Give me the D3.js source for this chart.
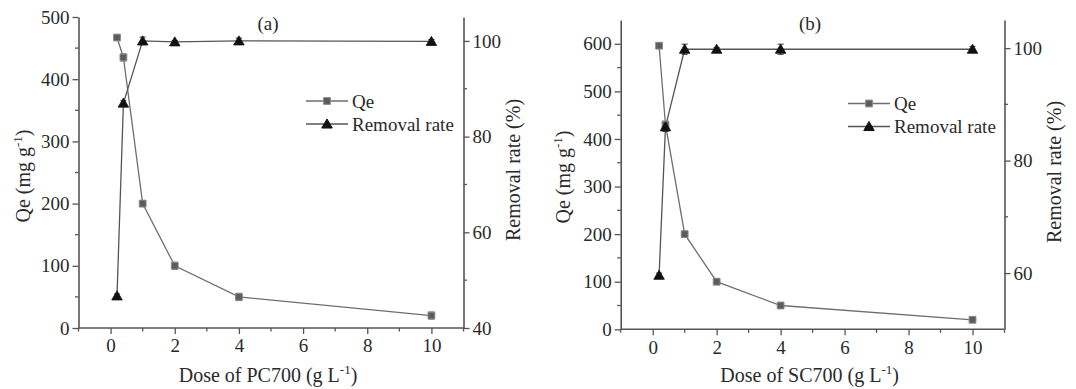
<!DOCTYPE html>
<html>
<head>
<meta charset="utf-8">
<script src="https://cdn.jsdelivr.net/npm/d3@7"></script>
<style>
  html, body { margin: 0; padding: 0; background: #fff; }
  svg { display: block; }
  svg text { font-family: "Liberation Serif", "Times New Roman", serif !important; fill: #2a2a2a; }
</style>
</head>
<body>
<svg id="chart" width="1076" height="389"></svg>
<script>
// Adsorbent dose (g/L) shared by both experiments
const doses = [0.2, 0.4, 1, 2, 4, 10];
const xTicks = [0, 2, 4, 6, 8, 10];
const xMinorTicks = [-1, 1, 3, 5, 7, 9, 11];

// PC700
const qePC = [467, 435, 200, 100, 50, 20];
const qePCErr = [3, 6, 5, 6, 6, 6];
const ratePC = [46.7, 87.0, 100.0, 99.8, 100.0, 99.9];
const ratePCErr = [0.4, 0.5, 0.8, 0.3, 0.6, 0.4];
const qeTicksPC = [0, 100, 200, 300, 400, 500];
const qeMinorPC = [50, 150, 250, 350, 450];
const rateTicksPC = [40, 60, 80, 100];
const rateMinorPC = [50, 70, 90];

// SC700
const qeSC = [596, 430, 200, 100, 50, 20];
const qeSCErr = [3, 8, 6, 6, 6, 5];
const rateSC = [59.6, 86.0, 99.8, 99.8, 99.8, 99.8];
const rateSCErr = [0.4, 0.8, 0.9, 0.3, 0.9, 0.5];
const qeTicksSC = [0, 100, 200, 300, 400, 500, 600];
const qeMinorSC = [50, 150, 250, 350, 450, 550];
const rateTicksSC = [60, 80, 100];
const rateMinorSC = [70, 90];

const legendLabels = ["Qe", "Removal rate"];

const svg = d3.select("#chart");
const AXIS = "#555";
const SERIF = '"Liberation Serif", "Times New Roman", serif';

function drawPanel(p) {
  const g = svg.append("g");
  const x = d3.scaleLinear().domain([-1, 11]).range([p.left, p.right]);
  const yL = d3.scaleLinear().domain(p.qeDomain).range([p.bottom, p.top]);
  const yR = d3.scaleLinear().domain(p.rateDomain).range([p.bottom, p.top]);

  // axes
  const styleAxis = sel => {
    sel.attr("font-family", null).attr("font-size", null);
    sel.select(".domain").attr("stroke", AXIS).attr("stroke-width", 1.6);
    sel.selectAll(".tick line").attr("stroke", AXIS).attr("stroke-width", 1.3);
    sel.selectAll(".tick text").style("font-size", "19px").style("font-family", SERIF)
      .attr("fill", "#2a2a2a");
  };
  const minor = (sel, scale, vals, orient) => {
    sel.selectAll(null).data(vals).join("line")
      .attr("stroke", AXIS).attr("stroke-width", 1.3)
      .each(function (d) {
        const s = d3.select(this);
        if (orient === "bottom") s.attr("x1", scale(d)).attr("x2", scale(d)).attr("y1", p.bottom).attr("y2", p.bottom + 3.5);
        if (orient === "left") s.attr("y1", scale(d)).attr("y2", scale(d)).attr("x1", p.left).attr("x2", p.left - 3.5);
        if (orient === "right") s.attr("y1", scale(d)).attr("y2", scale(d)).attr("x1", p.right).attr("x2", p.right + 3.5);
      });
  };

  const gx = g.append("g").attr("transform", `translate(0,${p.bottom})`)
    .call(d3.axisBottom(x).tickValues(xTicks).tickSize(6).tickPadding(5).tickSizeOuter(0));
  styleAxis(gx);
  gx.select(".domain").attr("d", `M${p.left},0H${p.right}`);
  minor(g, x, xMinorTicks, "bottom");

  const gl = g.append("g").attr("transform", `translate(${p.left},0)`)
    .call(d3.axisLeft(yL).tickValues(p.qeTicks).tickSize(6).tickPadding(3).tickSizeOuter(0));
  styleAxis(gl);
  minor(g, yL, p.qeMinor, "left");

  const gr = g.append("g").attr("transform", `translate(${p.right},0)`)
    .call(d3.axisRight(yR).tickValues(p.rateTicks).tickSize(6).tickPadding(3).tickSizeOuter(0));
  styleAxis(gr);
  minor(g, yR, p.rateMinor, "right");

  const qePts = doses.map((d, i) => ({ x: d, y: p.qe[i], e: p.qeErr[i] }));
  const ratePts = doses.map((d, i) => ({ x: d, y: p.rate[i], e: p.rateErr[i] }));

  // lines
  g.append("path").datum(qePts)
    .attr("fill", "none").attr("stroke", "#6e6e6e").attr("stroke-width", 1.3)
    .attr("d", d3.line().x(d => x(d.x)).y(d => yL(d.y)));
  g.append("path").datum(ratePts)
    .attr("fill", "none").attr("stroke", "#555").attr("stroke-width", 1.3)
    .attr("d", d3.line().x(d => x(d.x)).y(d => yR(d.y)));

  // error bars
  const errBars = (pts, scale, color) => {
    const eg = g.append("g").attr("stroke", color).attr("stroke-width", 1);
    pts.forEach(d => {
      const cx = x(d.x), y1 = scale(d.y - d.e), y2 = scale(d.y + d.e);
      eg.append("line").attr("x1", cx).attr("x2", cx).attr("y1", y1).attr("y2", y2);
      eg.append("line").attr("x1", cx - 3).attr("x2", cx + 3).attr("y1", y1).attr("y2", y1);
      eg.append("line").attr("x1", cx - 3).attr("x2", cx + 3).attr("y1", y2).attr("y2", y2);
    });
  };
  errBars(qePts, yL, "#888");
  errBars(ratePts, yR, "#333");

  // markers
  const sq = d3.symbol().type(d3.symbolSquare).size(46);
  const tri = d3.symbol().type(d3.symbolTriangle).size(48);
  g.selectAll(null).data(qePts).join("path")
    .attr("d", sq).attr("transform", d => `translate(${x(d.x)},${yL(d.y)})`)
    .attr("fill", "#5c5c5c").attr("stroke", "#8a8a8a").attr("stroke-width", 1);
  g.selectAll(null).data(ratePts).join("path")
    .attr("d", tri).attr("transform", d => `translate(${x(d.x)},${yR(d.y) + 1})`)
    .attr("fill", "#111").attr("stroke", "#111").attr("stroke-width", 0.8);

  // panel label
  g.append("text").attr("x", p.labelX).attr("y", 30).attr("text-anchor", "middle")
    .attr("font-size", 19).text(p.label);

  // legend
  const lg = g.append("g");
  [0, 1].forEach(i => {
    const ly = p.legendY + i * 23;
    lg.append("line").attr("x1", p.legendX).attr("x2", p.legendX + 42)
      .attr("y1", ly).attr("y2", ly).attr("stroke", i ? "#555" : "#6e6e6e").attr("stroke-width", 1.3);
    lg.append("path").attr("d", i ? tri : sq)
      .attr("transform", `translate(${p.legendX + 21},${ly + (i ? 1 : 0)})`)
      .attr("fill", i ? "#111" : "#5c5c5c").attr("stroke", i ? "#111" : "#8a8a8a");
    lg.append("text").attr("x", p.legendX + 46).attr("y", ly + 6.5)
      .attr("font-size", 19).text(legendLabels[i]);
  });

  // axis titles
  const xt = g.append("text").attr("x", (p.left + p.right) / 2 - 3).attr("y", 382)
    .attr("text-anchor", "middle").attr("font-size", 20);
  xt.append("tspan").text(`Dose of ${p.name} (g L`);
  xt.append("tspan").attr("font-size", 13).attr("dy", -8).text("-1");
  xt.append("tspan").attr("dy", 8).text(")");

  const lt = g.append("text")
    .attr("transform", `translate(${p.leftTitleX},${p.leftTitleY}) rotate(-90)`)
    .attr("text-anchor", "middle").attr("font-size", 20);
  lt.append("tspan").text("Qe (mg g");
  lt.append("tspan").attr("font-size", 13).attr("dy", -8).text("-1");
  lt.append("tspan").attr("dy", 8).text(")");

  g.append("text")
    .attr("transform", `translate(${p.rightTitleX},${p.rightTitleY}) rotate(-90)`)
    .attr("text-anchor", "middle").attr("font-size", 20).text("Removal rate (%)");
}

drawPanel({
  name: "PC700", label: "(a)",
  left: 78.5, right: 463.5, top: 17, bottom: 328,
  qeDomain: [0, 500], rateDomain: [40, 105],
  qe: qePC, qeErr: qePCErr, rate: ratePC, rateErr: ratePCErr,
  qeTicks: qeTicksPC, qeMinor: qeMinorPC, rateTicks: rateTicksPC, rateMinor: rateMinorPC,
  labelX: 268, legendX: 306, legendY: 101,
  leftTitleX: 30, leftTitleY: 176, rightTitleX: 520, rightTitleY: 170
});

drawPanel({
  name: "SC700", label: "(b)",
  left: 620.7, right: 1004.5, top: 20, bottom: 329.3,
  qeDomain: [0, 650], rateDomain: [50, 105],
  qe: qeSC, qeErr: qeSCErr, rate: rateSC, rateErr: rateSCErr,
  qeTicks: qeTicksSC, qeMinor: qeMinorSC, rateTicks: rateTicksSC, rateMinor: rateMinorSC,
  labelX: 810, legendX: 848, legendY: 103.5,
  leftTitleX: 570, leftTitleY: 177, rightTitleX: 1061, rightTitleY: 172
});
</script>
</body>
</html>
